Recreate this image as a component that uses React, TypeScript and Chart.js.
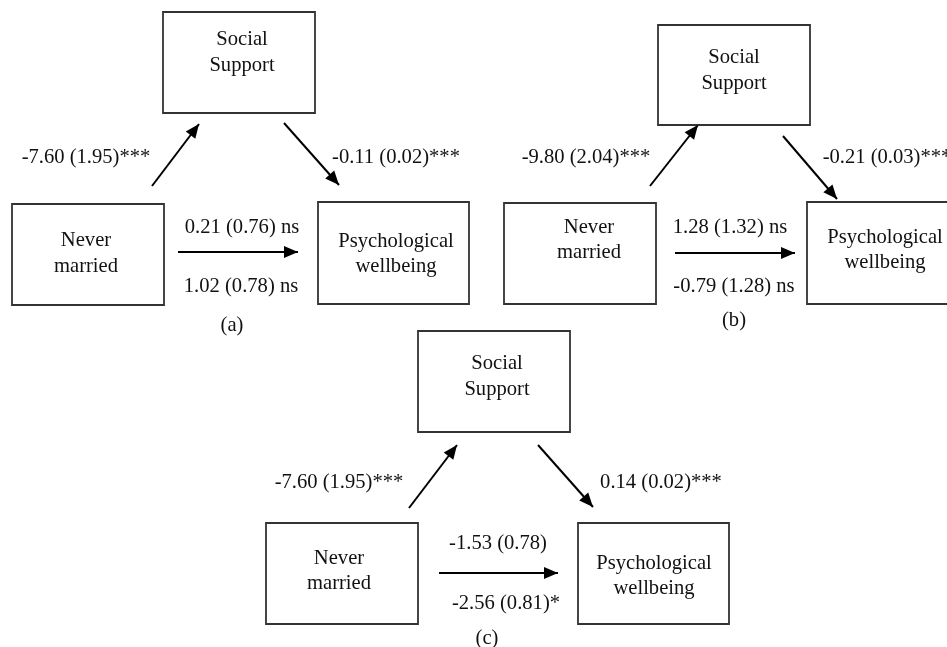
import React, { useEffect, useRef } from "react";
import { Chart, registerables } from "chart.js";

Chart.register(...registerables);

// Diagram boxes: [left, top, right, bottom] in diagram units (0..947 x 0..647)
const boxes: number[][] = [
  [163, 12, 315, 113], [12, 204, 164, 305], [318, 202, 469, 304],
  [658, 25, 810, 125], [504, 203, 656, 304], [807, 202, 959, 304],
  [418, 331, 570, 432], [266, 523, 418, 624], [578, 523, 729, 624],
];

// Arrows: [fromX, fromY, toX, toY]
const arrows: number[][] = [
  [152, 186, 199, 124], [284, 123, 339, 185], [178, 252, 298, 252],
  [650, 186, 698, 125], [783, 136, 837, 199], [675, 253, 795, 253],
  [409, 508, 457, 445], [538, 445, 593, 507], [439, 573, 558, 573],
];

// Node labels (one entry per line): [text, centerX, centerY]
const nodeLabels: [string, number, number][] = [
  ["Social", 242, 40], ["Support", 242, 66],
  ["Never", 86, 241], ["married", 86, 267],
  ["Psychological", 396, 242], ["wellbeing", 396, 267],
  ["Social", 734, 58], ["Support", 734, 84],
  ["Never", 589, 228], ["married", 589, 253],
  ["Psychological", 885, 238], ["wellbeing", 885, 263],
  ["Social", 497, 364], ["Support", 497, 390],
  ["Never", 339, 559], ["married", 339, 584],
  ["Psychological", 654, 564], ["wellbeing", 654, 589],
];

// Path coefficients: [text, centerX, centerY]
const pathLabels: [string, number, number][] = [
  ["-7.60 (1.95)***", 86, 158], ["-0.11 (0.02)***", 396, 158],
  ["0.21 (0.76) ns", 242, 228], ["1.02 (0.78) ns", 241, 287],
  ["-9.80 (2.04)***", 586, 158], ["-0.21 (0.03)***", 887, 158],
  ["1.28 (1.32) ns", 730, 228], ["-0.79 (1.28) ns", 734, 287],
  ["-7.60 (1.95)***", 339, 483], ["0.14 (0.02)***", 661, 483],
  ["-1.53 (0.78)", 498, 544], ["-2.56 (0.81)*", 506, 604],
];

// Panel captions: [text, centerX, centerY]
const captions: [string, number, number][] = [
  ["(a)", 232, 326], ["(b)", 734, 321], ["(c)", 487, 639],
];

const FONT = '20.6px "Liberation Serif", "Times New Roman", serif';

const diagramPlugin = {
  id: "diagramPlugin",
  afterDatasetsDraw(chart: any) {
    const { ctx, scales } = chart;
    const xs = scales.x;
    const ys = scales.y;
    // arrowheads
    chart.data.datasets.forEach((ds: any, i: number) => {
      if (ds.kind !== "arrow") return;
      const pts = chart.getDatasetMeta(i).data;
      const a = pts[0];
      const b = pts[pts.length - 1];
      const ang = Math.atan2(b.y - a.y, b.x - a.x);
      const len = 14;
      const hw = 6;
      ctx.save();
      ctx.fillStyle = "#000";
      ctx.beginPath();
      ctx.moveTo(b.x, b.y);
      ctx.lineTo(b.x - len * Math.cos(ang) + hw * Math.sin(ang), b.y - len * Math.sin(ang) - hw * Math.cos(ang));
      ctx.lineTo(b.x - len * Math.cos(ang) - hw * Math.sin(ang), b.y - len * Math.sin(ang) + hw * Math.cos(ang));
      ctx.closePath();
      ctx.fill();
      ctx.restore();
    });
    // texts
    ctx.save();
    ctx.font = FONT;
    ctx.fillStyle = "#111";
    ctx.textAlign = "center";
    ctx.textBaseline = "middle";
    [...nodeLabels, ...pathLabels, ...captions].forEach(([t, x, y]) => {
      ctx.fillText(t, xs.getPixelForValue(x), ys.getPixelForValue(y));
    });
    ctx.restore();
  },
};

export default function App() {
  const ref = useRef<HTMLCanvasElement | null>(null);
  useEffect(() => {
    if (!ref.current) return;
    const datasets: any[] = [];
    boxes.forEach(([l, t, r, b]) => {
      datasets.push({
        kind: "box",
        data: [
          { x: l, y: t }, { x: r, y: t }, { x: r, y: b }, { x: l, y: b }, { x: l, y: t },
        ],
        borderColor: "#333",
        borderWidth: 1.8,
        borderCapStyle: "square",
        borderJoinStyle: "miter",
        pointRadius: 0,
        showLine: true,
        fill: false,
        tension: 0,
      });
    });
    arrows.forEach(([x0, y0, x1, y1]) => {
      datasets.push({
        kind: "arrow",
        data: [{ x: x0, y: y0 }, { x: x1, y: y1 }],
        borderColor: "#000",
        borderWidth: 2,
        pointRadius: 0,
        showLine: true,
        fill: false,
        tension: 0,
      });
    });
    const chart = new Chart(ref.current, {
      type: "scatter",
      data: { datasets },
      options: {
        animation: false,
        responsive: true,
        maintainAspectRatio: false,
        layout: { padding: 0 },
        events: [],
        plugins: { legend: { display: false }, tooltip: { enabled: false } },
        scales: {
          x: { type: "linear", min: 0, max: 947, display: false },
          y: { type: "linear", min: 0, max: 647, reverse: true, display: false },
        },
      },
      plugins: [diagramPlugin],
    } as any);
    return () => chart.destroy();
  }, []);
  return (
    <div style={{ position: "fixed", left: 0, top: 0, width: 947, height: 647, background: "#fff" }}>
      <canvas ref={ref} />
    </div>
  );
}
